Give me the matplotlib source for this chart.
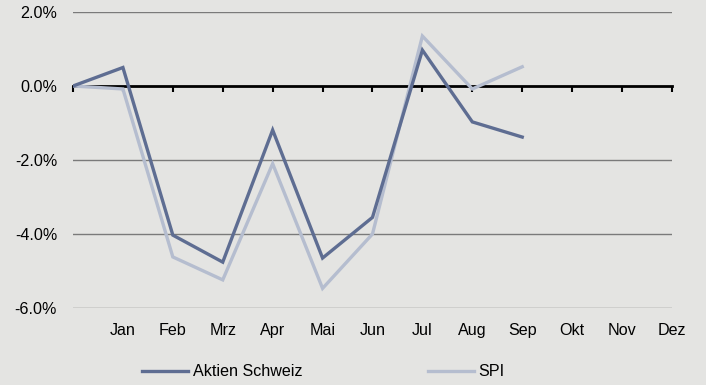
import numpy as np
import matplotlib.pyplot as plt

# Monatsrenditen 2011 (kumuliert, in %), Startpunkt = 0
monate = ['Jan', 'Feb', 'Mrz', 'Apr', 'Mai', 'Jun', 'Jul', 'Aug', 'Sep', 'Okt', 'Nov', 'Dez']
aktien_schweiz = [0.0, 0.5, -4.03, -4.76, -1.19, -4.65, -3.55, 0.97, -0.97, -1.38]
spi = [0.0, -0.08, -4.62, -5.24, -2.1, -5.47, -4.0, 1.35, -0.08, 0.52]
y_ticks = [-6.0, -4.0, -2.0, 0.0, 2.0]

plt.rcParams['font.family'] = ['Liberation Sans', 'DejaVu Sans']
plt.rcParams['font.size'] = 11.6

bg = '#e4e4e2'
fig = plt.figure(figsize=(7.06, 3.85), dpi=100, facecolor=bg)
ax = fig.add_axes([0.1034, 0.2, 0.8484, 0.7688], facecolor=bg)

# Gitterlinien
for y in y_ticks:
    if y != 0:
        ax.axhline(y, color='#7a7a7a', lw=1.0, zorder=1)

x_a = np.arange(len(aktien_schweiz))
x_s = np.arange(len(spi))
ax.plot(x_s, spi, color='#b5bdcf', lw=2.4, label='SPI', zorder=3,
        solid_joinstyle='miter')
ax.plot(x_a, aktien_schweiz, color='#5e6d92', lw=2.4, label='Aktien Schweiz',
        zorder=4, solid_joinstyle='miter')

ax.set_xlim(0, 12)
ax.set_ylim(-6, 2)

# Nulllinie als x-Achse mit Teilstrichen
for s in ['left', 'right', 'top']:
    ax.spines[s].set_visible(False)
ax.spines['bottom'].set_position(('data', 0))
ax.spines['bottom'].set_linewidth(2.0)
ax.spines['bottom'].set_zorder(2)
ax.set_xticks(np.arange(13))
ax.tick_params(axis='x', direction='out', length=4, width=1.5,
               labelbottom=False)

ax.set_yticks(y_ticks)
ax.set_yticklabels([f'{v:.1f}%' for v in y_ticks])
ax.tick_params(axis='y', length=0, pad=11.5)

# Monatsbeschriftung am unteren Rand
sec = ax.secondary_xaxis(0)
sec.set_xticks(np.arange(1, 13))
sec.set_xticklabels(monate)
sec.tick_params(length=0, pad=11)
sec.spines['bottom'].set_visible(False)

handles, labels = ax.get_legend_handles_labels()
fig.legend(handles[::-1], labels[::-1], loc='center', ncol=2,
           bbox_to_anchor=(0.458, 0.034), frameon=False,
           handlelength=2.85, handletextpad=0.3, columnspacing=7.8)

fig.savefig('out.png', dpi=100, facecolor=bg)
